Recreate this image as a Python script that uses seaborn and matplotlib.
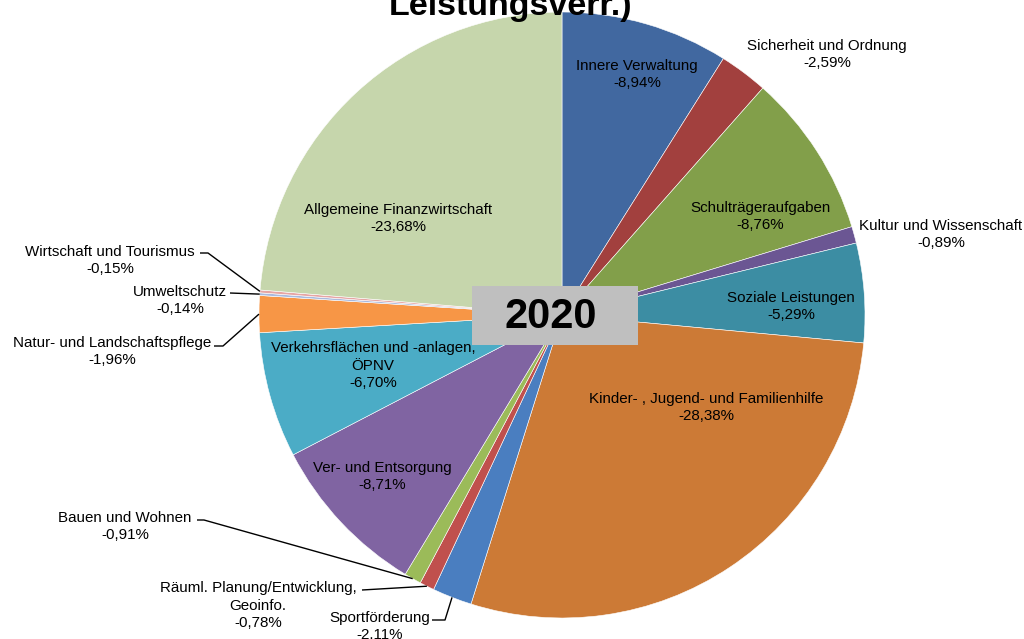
import numpy as np
import matplotlib
matplotlib.use("Agg")
import matplotlib.pyplot as plt
from matplotlib.patches import Rectangle
import seaborn as sns

# Anteile der Produktbereiche am Zuschussbedarf 2020 (in %)
bereiche = [
    "Innere Verwaltung",
    "Sicherheit und Ordnung",
    "Schulträgeraufgaben",
    "Kultur und Wissenschaft",
    "Soziale Leistungen",
    "Kinder- , Jugend- und Familienhilfe",
    "Sportförderung",
    "Räuml. Planung/Entwicklung,\nGeoinfo.",
    "Bauen und Wohnen",
    "Ver- und Entsorgung",
    "Verkehrsflächen und -anlagen,\nÖPNV",
    "Natur- und Landschaftspflege",
    "Umweltschutz",
    "Wirtschaft und Tourismus",
    "Allgemeine Finanzwirtschaft",
]
anteile = [-8.94, -2.59, -8.76, -0.89, -5.29, -28.38, -2.11, -0.78,
           -0.91, -8.71, -6.70, -1.96, -0.14, -0.15, -23.68]
farben = ["#4168A0", "#A2403E", "#829F4A", "#6B5693", "#3C8DA3",
          "#CC7A36", "#4A7EC0", "#C0504D", "#9BBB59", "#8064A2",
          "#4BACC6", "#F79646", "#A9BADE", "#E6A5A4", "#C6D6AC"]
jahr = "2020"
titel = "Leistungsverr.)"

sns.set_theme(style="white")
plt.rcParams["font.family"] = ["Liberation Sans", "DejaVu Sans"]

W, H = 1024, 639
fig = plt.figure(figsize=(W / 100, H / 100), dpi=100)
ax = fig.add_axes([0, 0, 1, 1])

# pie geometry in pixels
CX, CY, R = 562, 315, 303
LINE_H = 17.8  # label line height in pixels


def to_data(px, py):
    return (px - CX) / R, (CY - py) / R


sizes = [abs(v) for v in anteile]
palette = sns.color_palette(farben)
wedges, _ = ax.pie(sizes, colors=palette, startangle=90, counterclock=False,
                   radius=1.0, center=(0, 0), frame=True,
                   wedgeprops=dict(edgecolor="white", linewidth=0.4))
ax.set_xlim(-CX / R, (W - CX) / R)
ax.set_ylim(-(H - CY) / R, CY / R)
ax.set_axis_off()

# label block centres (pixels) and leader lines (start, elbow) for outer labels
label_pos = [
    (637, 73), (827, 53), (760, 215), (941, 233), (791, 305),
    (706, 406), (380, 625), (258, 604), (125, 525), (382, 475),
    (373, 364), (112, 350), (180, 299), (110, 259), (398, 217),
]
leaders = {
    6: [(432, 620), (445, 620)],
    7: [(362, 590)],
    8: [(197, 520), (204, 520)],
    11: [(214, 346), (223, 346)],
    12: [(230, 293)],
    13: [(200, 253), (208, 253)],
}

total = sum(sizes)
cum = np.cumsum([0] + sizes)
for i, (name, val) in enumerate(zip(bereiche, anteile)):
    wert = f"{val:.2f}%".replace(".", ",")
    lines = name.split("\n") + [wert]
    px, py = label_pos[i]
    top = py - LINE_H * (len(lines) - 1) / 2
    for k, line in enumerate(lines):
        x, y = to_data(px, top + k * LINE_H)
        ax.text(x, y, line, ha="center", va="center_baseline",
                fontsize=10.9, color="black")
    if i in leaders:
        mid = (cum[i] + cum[i + 1]) / 2 / total * 2 * np.pi
        ex, ey = np.sin(mid), np.cos(mid)
        pts = [to_data(*p) for p in leaders[i]] + [(ex, ey)]
        xs, ys = zip(*pts)
        ax.plot(xs, ys, color="black", lw=1.0, solid_capstyle="butt")

# year box in the middle
x0, y0 = to_data(472, 345)
x1, y1 = to_data(638, 286)
ax.add_patch(Rectangle((x0, y0), x1 - x0, y1 - y0, facecolor="#BFBFBF",
                       edgecolor="none", zorder=3))
bx, by = to_data(551, 317)
ax.text(bx, by, jahr, ha="center", va="center", fontsize=30,
        fontweight="bold", color="black", zorder=4)

fig.text(511 / W, 1 - 15 / H, titel, ha="center", va="baseline",
         fontsize=24.5, fontweight="bold", color="black")

fig.savefig("out.png", dpi=100)
